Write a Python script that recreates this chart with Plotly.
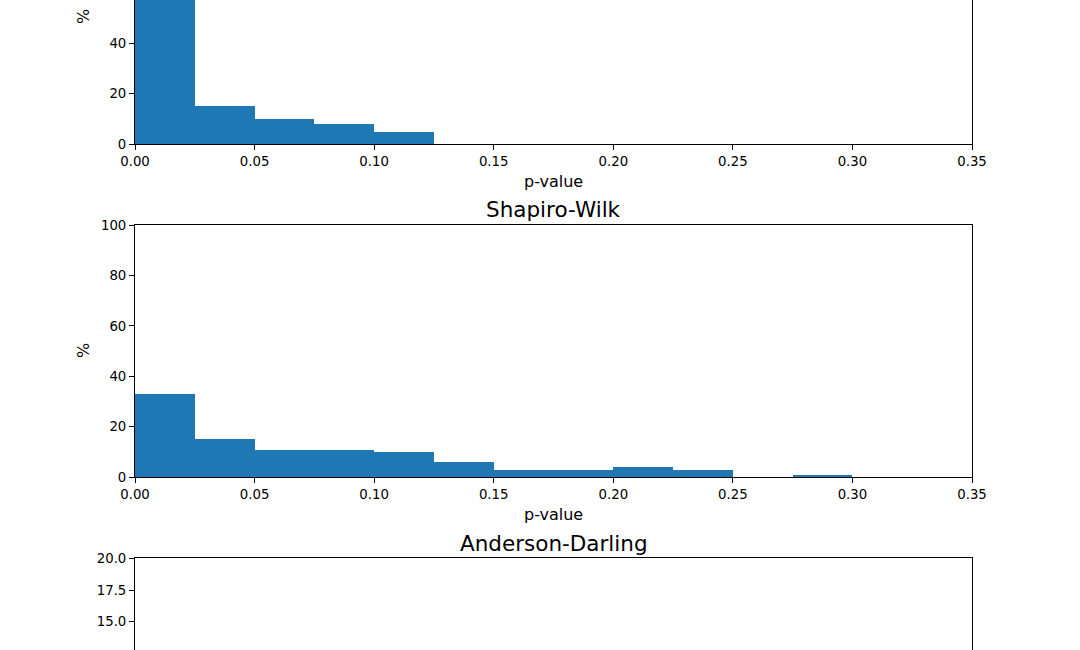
import plotly.graph_objects as go

# ---- data ----
bin_left = [0.000, 0.025, 0.050, 0.075, 0.100, 0.125, 0.150, 0.175, 0.200, 0.225, 0.250, 0.275]
bin_width = 0.025
pct_top = [62, 15, 10, 8, 5, 0, 0, 0, 0, 0, 0, 0]
pct_shapiro = [33, 15, 11, 11, 10, 6, 3, 3, 4, 3, 0, 1]
pct_anderson = []
anderson_left = []
titles = ["Shapiro-Wilk", "Anderson-Darling"]
x_label = "p-value"
y_label = "%"

W, H = 1080, 650
BLUE = "#1f77b4"
FONT = "DejaVu Sans"

def py(pix):
    return 1 - pix / H

fig = go.Figure()
fig.add_trace(go.Bar(x=bin_left, y=pct_top, width=bin_width, offset=0,
                     marker=dict(color=BLUE, line=dict(width=0)),
                     xaxis="x", yaxis="y", showlegend=False, hoverinfo="skip"))
fig.add_trace(go.Bar(x=bin_left, y=pct_shapiro, width=bin_width, offset=0,
                     marker=dict(color=BLUE, line=dict(width=0)),
                     xaxis="x2", yaxis="y2", showlegend=False, hoverinfo="skip"))
fig.add_trace(go.Bar(x=anderson_left, y=pct_anderson, width=bin_width, offset=0,
                     marker=dict(color=BLUE, line=dict(width=0)),
                     xaxis="x3", yaxis="y3", showlegend=False, hoverinfo="skip"))

xdom = [135 / W, 972 / W]
tickfont = dict(family=FONT, size=13.3, color="black")
common_x = dict(range=[0, 0.35], dtick=0.05, tick0=0, tickformat=".2f",
                showgrid=False, zeroline=False, showline=True, linecolor="black",
                linewidth=1, ticks="outside", ticklen=5, tickwidth=1,
                tickcolor="black", tickfont=tickfont, domain=xdom, automargin=False)
common_y = dict(showgrid=False, zeroline=False, showline=True, linecolor="black",
                linewidth=1, ticks="outside", ticklen=5, tickwidth=1,
                tickcolor="black", tickfont=tickfont, mirror=True, automargin=False)

top_px = 144.3
mid_top_px, mid_bot_px = 225.0, 477.3
bot_top_px = 558.3
ppu = (mid_bot_px - mid_top_px) / 100.0
bppu = 12.7

fig.update_layout(
    template="none",
    width=W, height=H,
    margin=dict(l=0, r=0, t=0, b=0, pad=0, autoexpand=False),
    paper_bgcolor="white", plot_bgcolor="white",
    bargap=0,
    xaxis=dict(**common_x, anchor="y", mirror=False),
    yaxis=dict(**common_y, anchor="x", domain=[py(top_px), 1],
               range=[0, top_px / ppu], dtick=20, tick0=0),
    xaxis2=dict(**common_x, anchor="y2", mirror=True),
    yaxis2=dict(**common_y, anchor="x2", domain=[py(mid_bot_px), py(mid_top_px)],
                range=[0, 100], dtick=20, tick0=0),
    xaxis3=dict(range=[0, 0.35], showgrid=False, zeroline=False, showline=True,
                linecolor="black", linewidth=1, ticks="", showticklabels=False,
                side="top", domain=xdom, anchor="y3", automargin=False),
    yaxis3=dict(**common_y, anchor="x3", domain=[0, py(bot_top_px)],
                range=[20 - (H - bot_top_px) / bppu, 20], dtick=2.5, tick0=0,
                tickformat=".1f"),
)

xc = (135 + 972) / 2 / W
ann = []
# x labels
for ypix in [181, 514]:
    ann.append(dict(text=x_label, x=xc, y=py(ypix), xref="paper", yref="paper",
                    showarrow=False, font=dict(family=FONT, size=16, color="black"),
                    xanchor="center", yanchor="middle"))
# y labels
for ypix in [17, 351]:
    ann.append(dict(text=y_label, x=83 / W, y=py(ypix), xref="paper", yref="paper",
                    showarrow=False, textangle=-90,
                    font=dict(family=FONT, size=16, color="black"),
                    xanchor="center", yanchor="middle"))
# titles
for t, ypix in zip(titles, [210, 543]):
    ann.append(dict(text=t, x=xc, y=py(ypix), xref="paper", yref="paper",
                    showarrow=False, font=dict(family=FONT, size=21.5, color="black"),
                    xanchor="center", yanchor="middle"))
fig.update_layout(annotations=ann)

fig.write_html("out.html",
               config={"displayModeBar": False, "staticPlot": True},
               post_script="document.body.style.margin='0';document.body.style.overflow='hidden';")
